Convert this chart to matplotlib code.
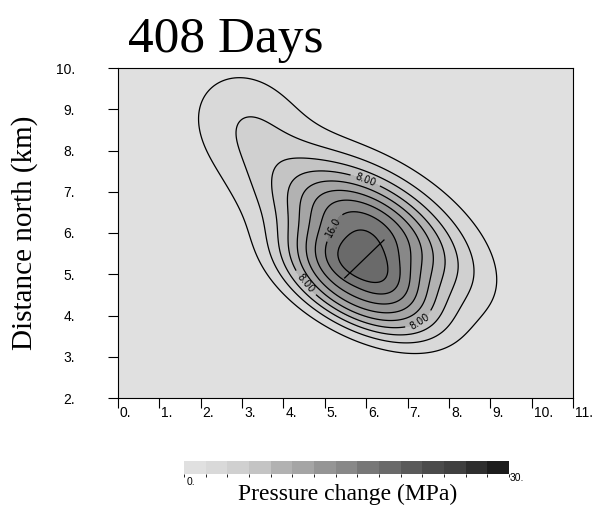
import numpy as np
import matplotlib
matplotlib.use("Agg")
import matplotlib.pyplot as plt
import matplotlib.transforms as mtransforms
from matplotlib.colors import ListedColormap, BoundaryNorm

# pressure field matched to the contours of the picture: three elliptical bumps
blob_x = [5.79, 6.04, 3.10]
blob_y = [4.66, 6.06, 8.72]
blob_amp = [10.66, 17.22, 3.38]
blob_major = [1.54, 1.66, 1.09]
blob_minor = [0.73, 0.88, 0.92]
blob_angle = [-27.7, -30.2, -37.7]
blob_power = [2.70, 2.0, 2.0]

# injection well trace
well_x = [5.48, 6.43]
well_y = [4.91, 5.83]

levels = np.arange(0, 32, 2)
labelled = [8, 16]
grays = [224, 217, 208, 196, 178, 165, 149, 136, 119, 106, 90, 75, 64, 46, 28]
x_ticks = np.arange(0, 12)
y_ticks = np.arange(2, 11)
title = "408 Days"

x = np.linspace(0, 11, 331)
y = np.linspace(2, 10, 241)
X, Y = np.meshgrid(x, y)
P = np.zeros_like(X)
for bx, by, a, sa, sb, th, pw in zip(blob_x, blob_y, blob_amp, blob_major, blob_minor,
                                     blob_angle, blob_power):
    t = np.deg2rad(th)
    u = (X - bx) * np.cos(t) + (Y - by) * np.sin(t)
    v = -(X - bx) * np.sin(t) + (Y - by) * np.cos(t)
    q = (u / sa) ** 2 + (v / sb) ** 2
    P += a * np.exp(-0.5 * q ** (pw / 2))

cmap = ListedColormap([(g / 255, g / 255, g / 255) for g in grays])
norm = BoundaryNorm(levels, cmap.N)

fig = plt.figure(figsize=(5.94, 5.14), dpi=100)
ax = fig.add_axes([118 / 594, 1 - 398 / 514, 455 / 594, 330 / 514])
cf = ax.contourf(X, Y, P, levels=levels, cmap=cmap, norm=norm)
plain = [l for l in levels[1:] if l not in labelled]
ax.contour(X, Y, P, levels=plain, colors='k', linewidths=0.9)
cs = ax.contour(X, Y, P, levels=labelled, colors='k', linewidths=0.9)
ax.clabel(cs, fmt={8: '8.00', 16: '16.0'}, fontsize=7, inline=True,
          manual=[(5.95, 7.2), (4.55, 4.8), (7.3, 3.85), (5.24, 6.12)])
ax.plot(well_x, well_y, color='k', lw=0.9)

ax.set_xlim(0, 11)
ax.set_ylim(2, 10)
ax.set_xticks(x_ticks)
ax.set_yticks(y_ticks)
ax.set_xticklabels([f"{v}." for v in x_ticks])
ax.set_yticklabels([f"{v}." for v in y_ticks])
ax.tick_params(direction='out', length=7, width=0.8, labelsize=10)
ax.tick_params(axis='y', pad=24)
ax.tick_params(axis='x', pad=-1)
for lab in ax.get_xticklabels():
    lab.set_horizontalalignment('left')
    lab.set_transform(lab.get_transform() + mtransforms.ScaledTranslation(2 / 100, 0, fig.dpi_scale_trans))
for lab in ax.get_xticklabels() + ax.get_yticklabels():
    lab.set_family('Liberation Sans')
for s in ax.spines.values():
    s.set_linewidth(0.8)

fig.text(128 / 594, 1 - 52 / 514, title, family='Liberation Serif', fontsize=37, va='baseline')
fig.text(25 / 594, 1 - 233 / 514, "Distance north (km)", family='Liberation Serif', fontsize=21,
         rotation=90, ha='center', va='center')

cax = fig.add_axes([184 / 594, 1 - 474 / 514, 325 / 594, 13 / 514])
cb = fig.colorbar(cf, cax=cax, orientation='horizontal')
cb.outline.set_visible(False)
cax.set_xticks([])
fig.text(191 / 594, 1 - 482 / 514, "0.", family='Liberation Sans', fontsize=7.5, ha='center', va='center')
fig.text(517 / 594, 1 - 478 / 514, "30.", family='Liberation Sans', fontsize=7.5, ha='center', va='center')
fig.text(348 / 594, 1 - 494 / 514, "Pressure change (MPa)", family='Liberation Serif', fontsize=17,
         ha='center', va='center')

fig.savefig("out.png", dpi=100)
